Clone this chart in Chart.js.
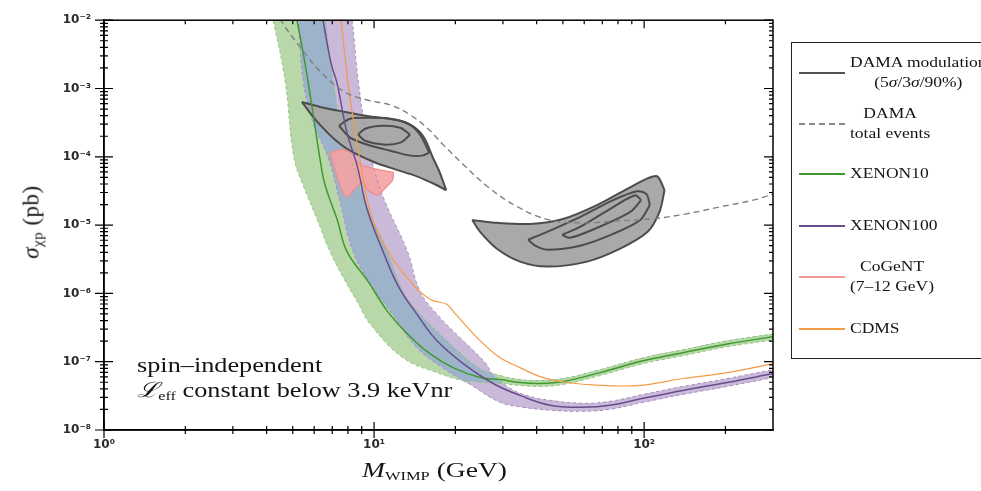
<!DOCTYPE html>
<html>
<head>
<meta charset="utf-8">
<script src="https://cdn.jsdelivr.net/npm/chart.js@4.4.1/dist/chart.umd.min.js"></script>
<style>
  body { margin: 0; background: #fff; }
  #wrap { position: relative; width: 981px; height: 491px; overflow: hidden;
          font-family: "Liberation Serif", "Times New Roman", serif; color: #141414; }
  #wrap canvas { position: absolute; left: 0; top: 0; }
  .t { position: absolute; white-space: nowrap; line-height: 1; transform-origin: 0 50%; transform: scaleX(1.25); }
  .t sub { font-size: 62%; vertical-align: -0.25em; line-height: 0; }
  #ytitle { position: absolute; left: 31px; top: 222px; white-space: nowrap; font-size: 23px; line-height: 1;
            letter-spacing: 0.5px; transform: translate(-50%, -50%) rotate(-90deg); }
  #ytitle sub { font-size: 65%; vertical-align: -0.3em; line-height: 0; }
  #lgbox { position: absolute; left: 791px; top: 42px; width: 220px; height: 315px; border: 1.5px solid #222; }
  .lgline { position: absolute; left: 799px; width: 46px; height: 0; }
  .lgtext { position: absolute; left: 850px; text-align: center; white-space: nowrap; font-size: 14px;
            line-height: 20px; transform-origin: 0 50%; transform: translateY(-50%) scaleX(1.25); }
</style>
</head>
<body>
<div id="wrap">
  <canvas id="grafico" width="981" height="491"></canvas>
  <div id="ytitle"><i>σ</i><sub>χp</sub> (pb)</div>
  <div class="t" style="left:362px;top:459px;font-size:22px"><i>M</i><sub style="font-size:60%">WIMP</sub> (GeV)</div>
  <div class="t" style="left:137px;top:355px;font-size:21px">spin–independent</div>
  <div class="t" style="left:137px;top:380px;font-size:21px"><i>ℒ</i><sub>eff</sub> constant below 3.9 keVnr</div>
  <div id="lgbox"></div>
</div>
<script>
// x: WIMP mass (GeV), y: cross section (pb)
const xMin = 1, xMax = 300;
const yMin = 1e-8, yMax = 1e-2;

const xenon10 = [[5.10,1.47e-2],[5.19,9.8e-3],[5.55,2.34e-3],[5.94,4.40e-4],[6.31,9.13e-5],[6.59,3.83e-5],
  [7.29,1.23e-5],[7.94,4.08e-6],[9.50,1.50e-6],[11.2,5.50e-7],[13.3,2.55e-7],[16.1,1.31e-7],[19.6,8.19e-8],
  [24.7,5.86e-8],[29.3,5.48e-8],[34.7,4.96e-8],[41.2,4.80e-8],[50.1,5.13e-8],[68.7,6.92e-8],[99.1,1.03e-7],
  [139,1.35e-7],[203,1.82e-7],[300,2.31e-7]];
const xenon10Low = [[4.0,1],[4.12,1.47e-2],[4.23,1.0e-2],[4.68,1.33e-3],[5.05,9.77e-5],[5.46,3.83e-5],
  [6.15,1.23e-5],[6.87,4.08e-6],[7.94,1.36e-6],[8.65,7.68e-7],[9.67,3.56e-7],[12.8,1.14e-7],[17.1,6.92e-8],
  [21.4,5.30e-8],[29.3,4.80e-8],[34.7,4.49e-8],[41.2,4.34e-8],[50.1,4.64e-8],[68.7,6.27e-8],[99.1,9.35e-8],
  [139,1.22e-7],[203,1.65e-7],[300,2.08e-7]];
const xenon10High = [[4.0,1],[6.47,1.47e-2],[6.59,1.0e-2],[7.05,1.33e-3],[7.61,2.25e-4],[8.29,8.26e-5],
  [9.26,2.17e-5],[11.2,4.08e-6],[12.8,1.07e-6],[14.8,4.97e-7],[17.5,2.55e-7],[20.8,1.35e-7],[24.7,7.91e-8],
  [29.3,6.27e-8],[34.7,5.48e-8],[41.2,5.30e-8],[50.1,5.67e-8],[68.7,7.65e-8],[99.1,1.14e-7],[139,1.49e-7],
  [203,2.02e-7],[300,2.55e-7]];

const xenon100 = [[6.36,1.47e-2],[6.47,1.0e-2],[6.93,2.34e-3],[7.29,1.20e-3],[7.94,2.25e-4],[8.65,7.48e-5],
  [9.42,1.72e-5],[10.8,4.08e-6],[12.3,1.27e-6],[14.4,4.97e-7],[17.1,2.02e-7],[21.4,9.35e-8],[27.6,4.80e-8],
  [34.7,3.21e-8],[44.9,2.30e-8],[59.5,2.15e-8],[74.8,2.30e-8],[99.1,2.91e-8],[139,3.80e-8],[203,4.96e-8],
  [300,6.70e-8]];
const xenon100Low = [[4.0,1],[5.14,1.47e-2],[5.24,1.0e-2],[5.46,1.33e-3],[5.94,3.15e-4],[6.76,9.77e-5],
  [7.48,2.17e-5],[8.36,4.08e-6],[9.83,1.27e-6],[11.7,4.97e-7],[14.4,1.60e-7],[18.6,7.40e-8],[22.7,4.64e-8],
  [29.3,2.54e-8],[35.6,2.15e-8],[44.9,1.95e-8],[59.5,1.88e-8],[74.8,2.01e-8],[99.1,2.54e-8],[139,3.32e-8],
  [203,4.34e-8],[300,5.86e-8]];
const xenon100High = [[4.0,1],[8.08,1.47e-2],[8.29,1.0e-2],[8.73,1.33e-3],[9.34,2.25e-4],[10.08,5.92e-5],
  [11.0,2.17e-5],[13.3,4.08e-6],[14.8,1.07e-6],[17.1,4.97e-7],[21.4,2.02e-7],[25.8,9.68e-8],[27.6,6.47e-8],
  [31.9,4.06e-8],[37.8,3.10e-8],[44.9,2.72e-8],[59.5,2.46e-8],[74.8,2.63e-8],[99.1,3.32e-8],[139,4.34e-8],
  [203,5.67e-8],[300,7.65e-8]];

const cdms = [[7.48,1.47e-2],[7.55,1.0e-2],[8.01,1.20e-3],[8.73,1.28e-4],[9.67,1.56e-5],[11.0,4.83e-6],
  [13.6,1.50e-6],[16.1,8.21e-7],[18.6,6.95e-7],[19.6,5.50e-7],[24.1,2.23e-7],[29.3,1.14e-7],[34.7,8.19e-8],
  [41.2,6.05e-8],[51.9,4.96e-8],[68.7,4.49e-8],[96.6,4.49e-8],[139,5.67e-8],[203,6.92e-8],[300,9.35e-8]];

const damaTotal = [[4.41,1.47e-2],[4.52,1.0e-2],[5.55,3.27e-3],[6.15,1.98e-3],[7.68,9.17e-4],[9.42,6.79e-4],
  [11.5,5.74e-4],[13.6,4.11e-4],[15.7,2.66e-4],[18.0,1.51e-4],[21.4,7.73e-5],[26.2,3.71e-5],[33.6,1.90e-5],
  [44.5,1.19e-5],[59.5,1.08e-5],[79.4,1.15e-5],[106,1.23e-5],[142,1.45e-5],[190,1.84e-5],[253,2.32e-5],
  [300,2.84e-5]];

// DAMA modulation regions: upper and lower boundary of each contour
const dama5LTop = [[5.41,6.35e-4],[6.31,5.37e-4],[7.81,4.54e-4],[9.42,3.97e-4],[12.5,3.37e-4],[14.2,2.66e-4],
  [15.4,1.84e-4],[16.5,9.77e-5],[17.5,5.92e-5],[18.5,3.24e-5]];
const dama5LBot = [[5.41,6.35e-4],[5.79,4.40e-4],[6.31,2.94e-4],[7.17,1.78e-4],[8.15,1.23e-4],[10.08,8.26e-5],
  [12.0,6.54e-5],[14.4,5.18e-5],[16.8,3.96e-5],[18.5,3.24e-5]];
const dama3LTop = [[7.42,2.85e-4],[8.15,3.60e-4],[9.67,3.72e-4],[11.5,3.60e-4],[13.4,3.04e-4],[14.8,2.11e-4],[16.0,1.15e-4]];
const dama3LBot = [[7.42,2.85e-4],[8.15,1.91e-4],[9.67,1.46e-4],[11.5,1.23e-4],[13.6,1.04e-4],[15.1,1.04e-4],[16.0,1.15e-4]];
const dama90LTop = [[8.73,2.11e-4],[9.26,2.58e-4],[10.8,2.85e-4],[12.5,2.66e-4],[13.6,2.11e-4]];
const dama90LBot = [[8.73,2.11e-4],[9.26,1.72e-4],[10.8,1.51e-4],[12.5,1.61e-4],[13.6,2.11e-4]];

const dama5RTop = [[23.1,1.19e-5],[28.5,1.08e-5],[37.8,1.04e-5],[50.1,1.23e-5],[66.9,1.96e-5],[88.8,3.58e-5],
  [103,4.84e-5],[112,5.18e-5],[119,3.24e-5]];
const dama5RBot = [[23.1,1.19e-5],[24.7,7.97e-6],[28.5,4.51e-6],[34.7,2.92e-6],[43.7,2.47e-6],[61.5,2.92e-6],
  [81.5,4.51e-6],[103,7.97e-6],[114,1.56e-5],[119,3.24e-5]];
const dama3RTop = [[37.2,6.10e-6],[43.7,7.97e-6],[57.9,1.31e-5],[76.8,2.32e-5],[94.2,3.13e-5],[102,2.84e-5],[105,1.96e-5]];
const dama3RBot = [[37.2,6.10e-6],[39.5,4.99e-6],[43.7,4.36e-6],[57.9,4.99e-6],[76.8,7.45e-6],[96.7,1.19e-5],[105,1.96e-5]];
const dama90RTop = [[49.7,7.21e-6],[57.9,9.42e-6],[76.8,1.84e-5],[92.6,2.74e-5],[97.5,2.32e-5]];
const dama90RBot = [[49.7,7.21e-6],[53.2,6.52e-6],[66.9,9.10e-6],[88.8,1.56e-5],[97.5,2.32e-5]];

const cogentTop = [[6.87,1.15e-4],[7.68,1.28e-4],[8.29,1.10e-4],[8.87,7.73e-5],[10.3,6.54e-5],[11.8,5.92e-5]];
const cogentBot = [[6.87,1.15e-4],[7.17,6.33e-5],[7.61,3.24e-5],[7.94,2.57e-5],[8.36,3.24e-5],[9.03,4.23e-5],
  [9.50,3.24e-5],[10.3,2.74e-5],[10.8,3.24e-5],[11.7,4.53e-5],[11.8,5.92e-5]];

const legendItems = [
  {lines: ['DAMA modulation', '(5<i>σ</i>/3<i>σ</i>/90%)'], color: '#505050', dash: false, y: 73},
  {lines: ['DAMA', 'total events'], color: '#8a8a8a', dash: true, y: 124},
  {lines: ['XENON10'], color: '#3d9a2c', dash: false, y: 174},
  {lines: ['XENON100'], color: '#6a4c8e', dash: false, y: 226},
  {lines: ['CoGeNT', '(7–12 GeV)'], color: '#f29a9a', dash: false, y: 277},
  {lines: ['CDMS'], color: '#f59a45', dash: false, y: 329}
];

const GREEN_FILL = '#b9d8aa', PURPLE_FILL = '#cbb9d9', BLUE_FILL = '#9db3ca';
const NONE = 'rgba(0,0,0,0)';
const DAMA_FILL = '#a9a9a9', DAMA_LINE = '#4c4c4c';

const pts = a => a.map(([x, y]) => ({x, y}));
function ds(data, o) {
  return Object.assign({data: pts(data), pointRadius: 0, borderWidth: 1.5, fill: false, tension: 0.4}, o);
}
const edgeG = {borderColor: '#8cc479', borderWidth: 1, borderDash: [3, 3]};
const edgeP = {borderColor: '#a68cc4', borderWidth: 1, borderDash: [3, 3]};
const hidden = {borderColor: NONE, borderWidth: 1};
const contour = {borderColor: DAMA_LINE, borderWidth: 2, tension: 0.3};

const datasets = [
  ds(xenon10Low, Object.assign({order: 120}, edgeG)),                                        // 0
  ds(xenon10High, Object.assign({order: 110, fill: {target: 0, above: GREEN_FILL, below: GREEN_FILL}}, edgeG)), // 1
  ds(xenon100Low, Object.assign({order: 119}, edgeP)),                                        // 2
  ds(xenon100High, Object.assign({order: 109, fill: {target: 2, above: PURPLE_FILL, below: PURPLE_FILL}}, edgeP)), // 3
  ds(xenon10High, Object.assign({order: 108, fill: {target: 2, above: BLUE_FILL, below: NONE}}, hidden)),   // 4 overlap
  ds(xenon10Low, Object.assign({order: 107, fill: {target: 2, above: PURPLE_FILL, below: NONE}}, hidden)),  // 5
  ds(xenon10High, Object.assign({order: 106, fill: {target: 3, above: GREEN_FILL, below: NONE}}, hidden)),  // 6
  ds(xenon10Low, Object.assign({order: 105, fill: {target: 3, above: '#ffffff', below: NONE}}, hidden)),    // 7
  ds(dama5RBot, Object.assign({order: 60}, contour)),                                         // 8
  ds(dama5RTop, Object.assign({order: 59, fill: {target: 8, above: DAMA_FILL, below: DAMA_FILL}}, contour)), // 9
  ds(dama5LBot, Object.assign({order: 58}, contour)),                                         // 10
  ds(dama5LTop, Object.assign({order: 57, fill: {target: 10, above: DAMA_FILL, below: DAMA_FILL}}, contour)), // 11
  ds(dama3LTop, Object.assign({order: 50}, contour)),
  ds(dama3LBot, Object.assign({order: 50}, contour)),
  ds(dama90LTop, Object.assign({order: 50}, contour)),
  ds(dama90LBot, Object.assign({order: 50}, contour)),
  ds(dama3RTop, Object.assign({order: 50}, contour)),
  ds(dama3RBot, Object.assign({order: 50}, contour)),
  ds(dama90RTop, Object.assign({order: 50}, contour)),
  ds(dama90RBot, Object.assign({order: 50}, contour)),                                        // 19
  ds(cogentBot, {order: 40, borderColor: '#f08c8c', borderWidth: 1.3, tension: 0.25}),        // 20
  ds(cogentTop, {order: 39, borderColor: '#f08c8c', borderWidth: 1.3, tension: 0.25,
    fill: {target: 20, above: 'rgba(245,163,163,0.9)', below: 'rgba(245,163,163,0.9)'}}),     // 21
  ds(xenon10, {order: 20, borderColor: '#3d9a2c', borderWidth: 1.5}),
  ds(xenon100, {order: 19, borderColor: '#6a4c8e', borderWidth: 1.5}),
  ds(cdms, {order: 18, borderColor: '#f59a45', borderWidth: 1.2, tension: 0.3}),
  ds(damaTotal, {order: 10, borderColor: '#808080', borderWidth: 1.4, borderDash: [6, 4]})
];

const SUP = {'-': '⁻', '0': '⁰', '1': '¹', '2': '²', '3': '³', '4': '⁴', '5': '⁵', '6': '⁶', '7': '⁷', '8': '⁸', '9': '⁹'};
function powLabel(v) {
  const e = Math.log10(v), r = Math.round(e);
  if (Math.abs(e - r) > 1e-6) return '';
  return '10' + String(r).split('').map(c => SUP[c]).join('');
}

// ticks crossing the frame, like the original figure
const axisTicks = {
  id: 'axisTicks',
  afterDraw(chart) {
    const {ctx, chartArea: a, scales: {x, y}} = chart;
    ctx.save();
    ctx.strokeStyle = '#000';
    ctx.lineWidth = 1.5;
    ctx.strokeRect(a.left, a.top, a.right - a.left, a.bottom - a.top);
    ctx.lineWidth = 1.2;
    ctx.beginPath();
    for (let e = 0; e <= 2; e++) for (let m = 1; m <= 9; m++) {
      const v = m * Math.pow(10, e);
      if (v >= xMax) break;
      const px = x.getPixelForValue(v), L = m === 1 ? 8 : 4;
      ctx.moveTo(px, a.bottom - L); ctx.lineTo(px, a.bottom + L);
      ctx.moveTo(px, a.top); ctx.lineTo(px, a.top + L);
    }
    for (let e = -8; e <= -2; e++) for (let m = 1; m <= 9; m++) {
      const v = m * Math.pow(10, e);
      if (v > yMax * 1.0001) break;
      const py = y.getPixelForValue(v), L = m === 1 ? 9 : 4;
      ctx.moveTo(a.left - L, py); ctx.lineTo(a.left + L, py);
      ctx.moveTo(a.right, py); ctx.lineTo(a.right - L, py);
    }
    ctx.stroke();
    ctx.restore();
  }
};

const tickFont = {family: 'DejaVu Sans', size: 12, weight: 'bold'};
const chart = new Chart(document.getElementById('grafico'), {
  type: 'line',
  data: {datasets},
  options: {
    responsive: false,
    animation: false,
    events: [],
    layout: {padding: {top: 16, right: 208, left: 0, bottom: 0}},
    plugins: {
      legend: {display: false},
      tooltip: {enabled: false},
      filler: {drawTime: 'beforeDatasetsDraw'}
    },
    scales: {
      x: {
        type: 'logarithmic', min: xMin, max: xMax,
        grid: {display: false, drawTicks: false},
        border: {display: true, color: '#000', width: 1.5},
        ticks: {autoSkip: false, maxRotation: 0, padding: 8, color: '#2a2a2a', font: tickFont,
          callback: v => powLabel(v)},
        afterFit: s => { s.height = 61; }
      },
      y: {
        type: 'logarithmic', min: yMin, max: yMax,
        grid: {display: false, drawTicks: false},
        border: {display: true, color: '#000', width: 1.5},
        ticks: {autoSkip: false, padding: 13, color: '#2a2a2a', font: tickFont,
          callback: v => powLabel(v)},
        afterFit: s => { s.width = 104; }
      }
    }
  },
  plugins: [axisTicks]
});

// legend box drawn as html text
const wrap = document.getElementById('wrap');
legendItems.forEach(it => {
  const ln = document.createElement('div');
  ln.className = 'lgline';
  ln.style.top = (it.y - 1) + 'px';
  ln.style.borderTop = '2px ' + (it.dash ? 'dashed ' : 'solid ') + it.color;
  wrap.appendChild(ln);
  const tx = document.createElement('div');
  tx.className = 'lgtext';
  tx.style.top = it.y + 'px';
  tx.innerHTML = it.lines.join('<br>');
  wrap.appendChild(tx);
});
</script>
</body>
</html>
